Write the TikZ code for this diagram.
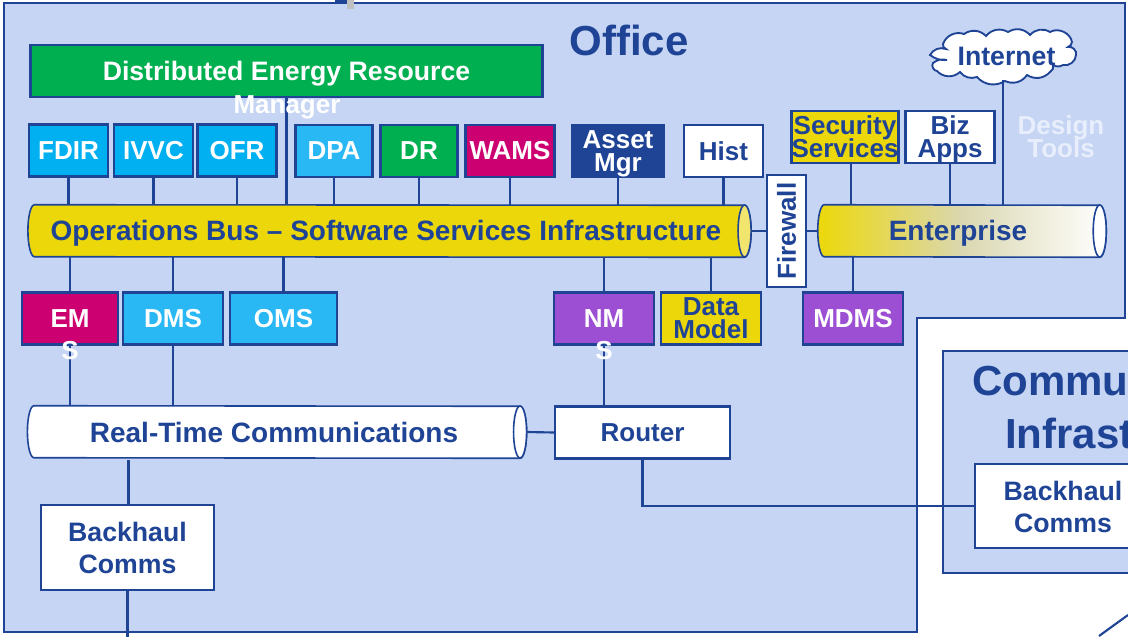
\documentclass[tikz,border=0pt]{standalone}
\usepackage{fontspec}
\setmainfont{Liberation Sans}
\usepackage{xcolor}
\usetikzlibrary{positioning}
\definecolor{linkblue}{HTML}{1F4496}
\definecolor{officefill}{HTML}{C5D5F3}
\definecolor{dergreen}{HTML}{00AF50}
\definecolor{appcyan}{HTML}{00B0F0}
\definecolor{skycyan}{HTML}{2AB8F5}
\definecolor{wamspink}{HTML}{CC0070}
\definecolor{nmspurple}{HTML}{9C4FD3}
\definecolor{busyellow}{HTML}{ECD80A}
\definecolor{endyellow}{HTML}{F2E56E}
\definecolor{midfade}{HTML}{DAD7B0}
\definecolor{designwhite}{HTML}{E8EEFB}
\newcommand{\tightfont}{\fontsize{19.5}{17.5}\selectfont\bfseries\lineskiplimit=-20pt}
\newcommand{\drawpipe}[3]{
\draw [draw=linkblue, line width=1.2pt, #2] ([xshift=4.9pt]#1.north west) arc [start angle=90, end angle=270, x radius=4.9pt, y radius=19.5pt] -- ([xshift=-4.9pt]#1.south east) arc [start angle=-90, end angle=90, x radius=4.9pt, y radius=19.5pt] -- cycle;
\draw [draw=linkblue, line width=1.2pt, fill=#3] ([xshift=-4.9pt]#1.east) ellipse [x radius=4.9pt, y radius=19.5pt];
}
\tikzset{
  boxnode/.style={draw=linkblue, line width=1.8pt, minimum width=#1, inner sep=0pt, minimum height=39pt, align=center, font=\tightfont},
  lightbox/.style={boxnode=#1, fill=white, text=linkblue},
  darkbox/.style={boxnode=#1, text=white},
  pipespot/.style={minimum width=#1, minimum height=39pt, inner sep=0pt},
  pipetext/.style={font=\fontsize{21}{21}\selectfont\bfseries, text=linkblue, inner sep=0pt},
  bigtext/.style={font=\fontsize{31.5}{31.5}\selectfont\bfseries, text=linkblue, inner sep=0pt},
  wraptext/.style={font=\tightfont, inner sep=0pt},
  wire/.style={draw=linkblue, line width=1.6pt}
}
\begin{document}
\begin{tikzpicture}[x=.75pt, y=-.75pt]
\useasboundingbox (0,0) rectangle (1128,636);
\clip (0,0) rectangle (1128,636);
% zones
\draw [fill=officefill, draw=linkblue, line width=1.2pt] (4,3) -- (1125,3) -- (1125,318) -- (917,318) -- (917,632) -- (4,632) -- cycle;
\draw [fill=officefill, draw=linkblue, line width=1.2pt] (943,351) rectangle (1150,573);
\fill [black!25] (347,0) rectangle (354,9);
\fill [linkblue] (335,0) rectangle (347,3);
\draw [wire] (1099,636) -- (1128,615);
\node [bigtext] (office) at (629,40) {Office};
\node [bigtext, anchor=west] (commu) at (972,381) {Commu};
\node [bigtext, anchor=west] (infrast) at (1005,433) {Infrast};
% top row
\node [darkbox=384pt, fill=dergreen, text depth=0pt, font=\fontsize{20}{20}\selectfont\bfseries] (der) at (286.5,71) {Distributed Energy Resource};
\node [darkbox=59pt, fill=appcyan] (fdir) at (68.5,150.5) {FDIR};
\node [darkbox=59pt, fill=appcyan] (ivvc) at (153.5,150.5) {IVVC};
\node [darkbox=59pt, fill=appcyan] (ofr) at (237,150.5) {OFR};
\node [darkbox=58pt, fill=skycyan] (dpa) at (334,151) {DPA};
\node [darkbox=58pt, fill=dergreen] (dr) at (419,151) {DR};
\node [darkbox=67pt, fill=wamspink] (wams) at (510,151) {WAMS};
\node [darkbox=69pt, fill=linkblue] (asset) at (618,151) {\rule{0pt}{17.3pt}Asset\\Mgr};
\node [lightbox=59pt] (hist) at (723.5,151) {Hist};
\node [boxnode=79pt, fill=busyellow, text=linkblue] (secur) at (845,137) {Security\\Services};
\node [lightbox=67pt] (biz) at (950,137) {\rule{0pt}{17.2pt}Biz\\Apps};
% internet cloud
\draw [draw=linkblue, line width=1.4pt, fill=white] (943,44) to [bend left=45] (964,34) to [bend left=40] (986,36) to [bend left=40] (1008,32) to [bend left=40] (1030,35) to [bend left=40] (1050,32) to [bend left=55] (1072,42) to [bend left=30] (1068,47) to [bend left=60] (1076,55) to [bend left=50] (1063,65) to [bend left=30] (1053,65) to [bend left=40] (1050,72) to [bend left=40] (1027,75) to [bend left=40] (1005,81) to [bend left=40] (977,77) to [bend left=35] (960,72) to [bend left=45] (937,71) to [bend left=60] (933,63) to [bend left=25] (947,60) to [bend left=20] (930,55) to [bend left=40] (946,49) to [bend left=40] cycle;
\node [font=\fontsize{20}{20}\selectfont\bfseries, text=linkblue, inner sep=0pt] (inet) at (1006.5,56) {Internet};
\coordinate (inetfoot) at (1003,80);
% pipes
\node [pipespot=542pt] (opsbus) at (389.5,231) {};
\drawpipe{opsbus}{fill=busyellow}{endyellow}
\node [pipetext] (opslabel) at (386,233) {Operations Bus -- Software Services Infrastructure};
\node [pipespot=216pt] (entbus) at (962,231) {};
\drawpipe{entbus}{left color=busyellow, right color=white, middle color=midfade}{white}
\node [pipetext] (entlabel) at (958,233) {Enterprise};
\node [pipespot=374pt] (rtc) at (277,432) {};
\drawpipe{rtc}{fill=white}{white}
\node [pipetext] (rtclabel) at (274,432) {Real-Time Communications};
\node [lightbox=84pt, minimum height=29pt, rotate=90, font=\fontsize{19.5}{19.5}\selectfont\bfseries] (firewall) at (786.5,231) {Firewall};
% lower rows
\node [darkbox=72pt, fill=wamspink] (ems) at (70,318.5) {EM};
\node [darkbox=75pt, fill=skycyan] (dms) at (173,318.5) {DMS};
\node [darkbox=80pt, fill=skycyan] (oms) at (283.5,318.5) {OMS};
\node [darkbox=75pt, fill=nmspurple] (nms) at (604,318.5) {NM};
\node [boxnode=75pt, fill=busyellow, text=linkblue] (dmodel) at (711,318.5) {Data\\Model};
\node [darkbox=75pt, fill=nmspurple] (mdms) at (853,318.5) {MDMS};
\node [lightbox=131pt] (router) at (642.5,432.5) {Router};
\node [lightbox=130pt, minimum height=64pt, font=\fontsize{20}{24}\selectfont\bfseries] (bhleft) at (127.5,547.5) {Backhaul\\Comms};
\node [lightbox=125pt, minimum height=63pt, anchor=west] (bhright) at (974,506) {};
\node [font=\fontsize{20}{24}\selectfont\bfseries, text=linkblue, inner sep=0pt, align=center] (bhrlabel) at (1063,507) {Backhaul\\Comms};
\coordinate (bhdown) at (127.5,640);
\coordinate (rtcdrop) at (128.5,460);
\coordinate (securfoot) at (851,163);
% wires
\foreach \n in {fdir,ivvc,ofr,der,dpa,dr,wams,asset,hist}
\draw [wire] (\n.south) -- (\n.south |- opsbus.north);
\foreach \n in {securfoot,biz.south,inetfoot}
\draw [wire] (\n) -- (\n |- entbus.north);
\foreach \n in {ems,dms,oms,nms,dmodel}
\draw [wire] (\n.north) -- (\n.north |- opsbus.south);
\draw [wire] (mdms.north) -- (mdms.north |- entbus.south);
\draw [wire] (ems.south) -- (ems.south |- rtc.north);
\draw [wire] (dms.south) -- (dms.south |- rtc.north);
\draw [wire] (nms.south) -- (nms.south |- router.north);
\draw [wire] (rtc.east) -- (router.west);
\draw [wire] (opsbus.east) -- (firewall.north);
\draw [wire] (firewall.south) -- (entbus.west);
\draw [wire] (rtcdrop) -- (rtcdrop |- bhleft.north);
\draw [wire] (bhleft.south) -- (bhdown);
\draw [wire] (router.south) |- (bhright.west);
% text that runs out of its box
\node [wraptext, text=white] (dermore) at (287,107) {Manager};
\node [wraptext, text=white] (emsmore) at (70,351) {S};
\node [wraptext, text=white] (nmsmore) at (604,351) {S};
\node [wraptext, text=designwhite, align=center] (design) at (1061,137) {Design\\Tools};
\end{tikzpicture}
\end{document}
